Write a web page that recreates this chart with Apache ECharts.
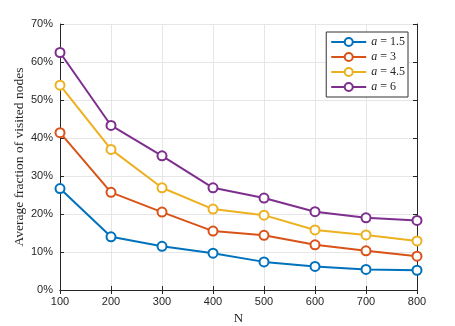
<!DOCTYPE html>
<html>
<head>
<meta charset="utf-8">
<script src="https://cdn.jsdelivr.net/npm/echarts@6/dist/echarts.min.js"></script>
<style>
html, body { margin: 0; padding: 0; background: #fff; }
#main { width: 455px; height: 326px; }
</style>
</head>
<body>
<div id="main"></div>
<script>
// N values on the x axis
var nValues = [100, 200, 300, 400, 500, 600, 700, 800];
// average fraction of visited nodes (%), one list per a
var a15 = [26.7, 14.0, 11.5, 9.7, 7.4, 6.2, 5.4, 5.2];
var a3 = [41.4, 25.7, 20.5, 15.5, 14.4, 11.9, 10.3, 8.9];
var a45 = [53.9, 37.0, 26.9, 21.3, 19.7, 15.8, 14.5, 12.9];
var a6 = [62.5, 43.3, 35.3, 26.9, 24.2, 20.6, 19.0, 18.3];
var seriesNames = ['a = 1.5', 'a = 3', 'a = 4.5', 'a = 6'];
var seriesColors = ['#0072BD', '#D95319', '#EDB120', '#7E2F8E'];

var allData = [a15, a3, a45, a6];
var myChart = echarts.init(document.getElementById('main'));

var tickFont = { color: '#262626', fontSize: 11, fontFamily: 'Liberation Sans, Arial, sans-serif' };

function pairUp(vals) {
    var out = [];
    for (var i = 0; i < nValues.length; i++) {
        out.push([nValues[i], vals[i]]);
    }
    return out;
}

var series = [];
for (var k = 0; k < allData.length; k++) {
    series.push({
        name: seriesNames[k],
        type: 'line',
        data: pairUp(allData[k]),
        symbol: 'emptyCircle',
        symbolSize: 9,
        showAllSymbol: true,
        animation: false,
        lineStyle: { color: seriesColors[k], width: 2 },
        itemStyle: { color: seriesColors[k], borderColor: seriesColors[k], borderWidth: 2 }
    });
}

var option = {
    backgroundColor: '#fff',
    grid: { left: 60, right: 38, top: 24, bottom: 36, containLabel: false, outerBoundsMode: 'none' },
    legend: {
        right: 47,
        top: 32,
        orient: 'vertical',
        itemWidth: 35,
        itemHeight: 10,
        itemGap: 3,
        padding: [4, 3, 4, 4],
        backgroundColor: '#fff',
        borderColor: '#333',
        borderWidth: 1,
        borderRadius: 0,
        data: seriesNames,
        formatter: function (name) {
            return '{i|a}{t|' + name.slice(1) + '}';
        },
        textStyle: {
            rich: {
                i: { fontFamily: 'Liberation Serif, serif', fontStyle: 'italic', fontSize: 12, lineHeight: 12, color: '#262626' },
                t: { fontFamily: 'Liberation Serif, serif', fontSize: 12, lineHeight: 12, color: '#262626' }
            }
        }
    },
    xAxis: [{
        type: 'value',
        min: 100,
        max: 800,
        interval: 100,
        name: 'N',
        nameLocation: 'middle',
        nameGap: 19,
        nameTextStyle: { fontFamily: 'Liberation Serif, serif', fontSize: 13, color: '#262626' },
        axisLine: { lineStyle: { color: '#262626' } },
        axisTick: { inside: true, length: 4, lineStyle: { color: '#262626' } },
        axisLabel: Object.assign({ margin: 6 }, tickFont),
        splitLine: { show: true, lineStyle: { color: '#e6e6e6' } }
    }, {
        type: 'value',
        position: 'top',
        min: 100,
        max: 800,
        interval: 100,
        axisLine: { show: true, lineStyle: { color: '#262626' } },
        axisTick: { show: true, inside: true, length: 4, lineStyle: { color: '#262626' } },
        axisLabel: { show: false },
        splitLine: { show: false }
    }],
    yAxis: [{
        type: 'value',
        min: 0,
        max: 70,
        interval: 10,
        name: 'Average fraction of visited nodes',
        nameLocation: 'middle',
        nameGap: 34,
        nameMoveOverlap: false,
        nameTextStyle: { fontFamily: 'Liberation Serif, serif', fontSize: 13.5, color: '#262626' },
        axisLine: { show: true, lineStyle: { color: '#262626' } },
        axisTick: { show: true, inside: true, length: 4, lineStyle: { color: '#262626' } },
        axisLabel: Object.assign({ margin: 7, formatter: '{value}%' }, tickFont),
        splitLine: { show: true, lineStyle: { color: '#e6e6e6' } }
    }, {
        type: 'value',
        position: 'right',
        min: 0,
        max: 70,
        interval: 10,
        axisLine: { show: true, lineStyle: { color: '#262626' } },
        axisTick: { show: true, inside: true, length: 4, lineStyle: { color: '#262626' } },
        axisLabel: { show: false },
        splitLine: { show: false }
    }],
    series: series
};

myChart.setOption(option);
</script>
</body>
</html>
